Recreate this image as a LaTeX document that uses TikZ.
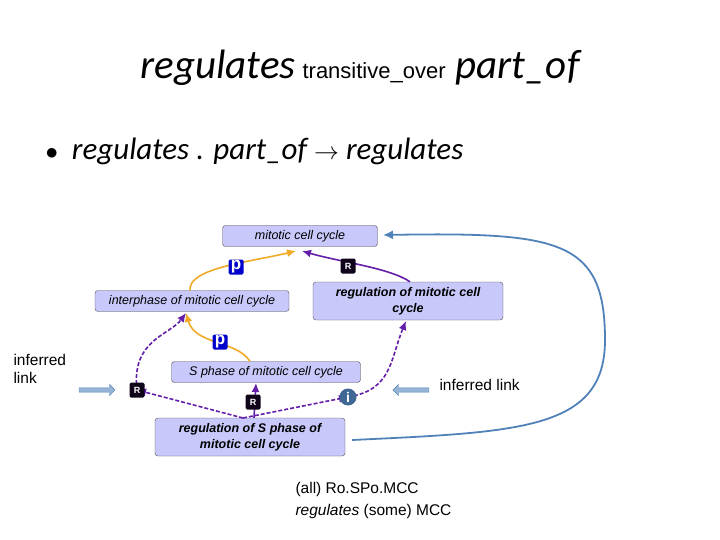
\documentclass[tikz,border=0pt]{standalone}
\usepackage{fontspec}
\setmainfont{Liberation Sans}
\newfontfamily\calib{Carlito}
\usetikzlibrary{arrows.meta,shapes.arrows}
\definecolor{boxfill}{RGB}{200,200,250}
\definecolor{orng}{RGB}{240,170,40}
\definecolor{purp}{RGB}{100,30,170}
\definecolor{steel}{RGB}{80,130,185}
\definecolor{pblue}{RGB}{20,40,200}
\tikzset{
  term/.style={draw=black!70,fill=boxfill,rounded corners=3pt,font=\fontsize{12.5}{14}\selectfont\itshape,align=center,minimum height=21pt,inner sep=1pt},
  bterm/.style={term,minimum height=38pt,font=\fontsize{12.5}{16}\selectfont\bfseries\itshape},
  badge/.style={fill=#1,text=white,font=\bfseries\fontsize{9}{9}\selectfont,minimum size=15pt,inner sep=0pt,rounded corners=1.5pt},
  isa/.style={orng,line width=1.6pt,-{Latex[length=9pt,width=8pt]}},
  reg/.style={purp,line width=1.6pt,-{Latex[length=9pt,width=8pt]}},
  inf/.style={purp,line width=1.6pt,dash pattern=on 4pt off 2pt,-{Latex[length=9pt,width=8pt]}},
  fat/.style={single arrow,fill=steel!60,draw=steel,minimum height=36pt,minimum width=11pt,single arrow head extend=2pt,inner sep=1pt}
}
\begin{document}
\begin{tikzpicture}[x=1pt,y=-1pt]
  \useasboundingbox (0,0) rectangle (720,540);
  % title and bullet
  \node (title) at (360,68) {{\calib\itshape\fontsize{41}{44}\selectfont regulates}\hspace{7pt}{\fontsize{22}{26}\selectfont transitive\_over}\hspace{10pt}{\calib\itshape\fontsize{41}{44}\selectfont part\_of}};
  \node[anchor=west] (bullet) at (42,151) {\calib\fontsize{31}{33}\selectfont $\bullet$\ \ \itshape regulates . part\_of {\upshape$\rightarrow$} regulates};
  % terms
  \node[term,minimum width=155pt] (mcc) at (300,236) {mitotic cell cycle};
  \node[term,minimum width=194pt] (inter) at (192,301) {interphase of mitotic cell cycle};
  \node[bterm,minimum width=190pt] (regmcc) at (408,301) {regulation of mitotic cell\\cycle};
  \node[term,minimum width=189pt] (sphase) at (266,372) {S phase of mitotic cell cycle};
  \node[bterm,minimum width=190pt] (regS) at (250,437) {regulation of S phase of\\mitotic cell cycle};
  % links
  \draw[isa] (inter.north) ++(-2,0) coordinate (a1) .. controls (188,268) and (250,262) .. (296,251);
  \draw[reg] (regmcc.north) ++(2,0) coordinate (a2) .. controls (390,268) and (340,262) .. (302,251);
  \draw[isa] (sphase.north) ++(-16,0) coordinate (a3) .. controls (236,340) and (195,345) .. (186,313);
  \draw[reg] (regS.north) ++(4,0) coordinate (a4) -- (256,383);
  \draw[inf] (243,418) -- (137,390);
  \draw[inf] (137,390) .. controls (131,340) and (170,335) .. (186,313);
  \draw[inf] (243,418) -- (348,397);
  \draw[inf] (348,397) .. controls (392,390) and (390,360) .. (406,321);
  \node[badge=blue!80!black,font=\bfseries\fontsize{17}{17}\selectfont\rmfamily] (p1) at (236,267) {p};
  \node[badge=black!85!purp] (r1) at (348,266) {R};
  \node[badge=blue!80!black,font=\bfseries\fontsize{17}{17}\selectfont\rmfamily] (p2) at (220,342) {p};
  \node[badge=black!85!purp] (r2) at (137,390) {R};
  \node[badge=black!85!purp] (r3) at (253,402) {R};
  \node[badge=pblue,circle,fill=steel!80!black,font=\bfseries\fontsize{14}{14}\selectfont\rmfamily,minimum size=17pt] (i1) at (348,397) {i};
  % inferred link arrows
  \node[anchor=north west,align=left,font=\fontsize{15.5}{18}\selectfont] (lbl1) at (10,351) {inferred\\link};
  \node[fat] (ar1) at (96,390) {};
  \node[fat,shape border rotate=180] (ar2) at (412,390) {};
  \node[anchor=west,font=\fontsize{15.5}{18}\selectfont] (lbl2) at (436,385) {inferred link};
  % curved connector
  \draw[steel,line width=1.8pt,-{Latex[length=10pt,width=9pt]}] (regS.east) ++(7,3) coordinate (c0) .. controls (520,432) and (605,430) .. (605,340) .. controls (605,240) and (560,232) .. (383,235);
  % caption
  \node[anchor=north west,align=left,font=\fontsize{15.5}{22}\selectfont] (cap) at (292,479) {(all) Ro.SPo.MCC\\\textit{regulates} (some) MCC};
\end{tikzpicture}
\end{document}
